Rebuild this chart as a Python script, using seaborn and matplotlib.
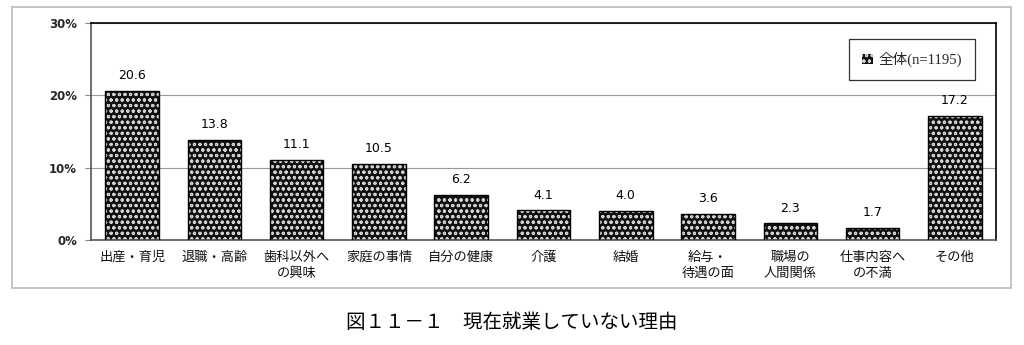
import matplotlib
matplotlib.use("Agg")
import matplotlib.pyplot as plt
import matplotlib.patches as mpatches
import seaborn as sns
import pandas as pd

categories = ["出産・育児", "退職・高齢", "歯科以外へ\nの興味", "家庭の事情", "自分の健康",
              "介護", "結婚", "給与・\n待遇の面", "職場の\n人間関係", "仕事内容へ\nの不満", "その他"]
values = [20.6, 13.8, 11.1, 10.5, 6.2, 4.1, 4.0, 3.6, 2.3, 1.7, 17.2]
yticks = [0, 10, 20, 30]
ytick_labels = ["0%", "10%", "20%", "30%"]
legend_label = "全体(n=1195)"
title = "図１１－１　現在就業していない理由"

sns.set_theme(style="white")
plt.rcParams['font.family'] = ['Noto Sans CJK JP', 'DejaVu Sans']
plt.rcParams['hatch.linewidth'] = 0.8

df = pd.DataFrame({"cat": categories, "val": values})

fig = plt.figure(figsize=(10.24, 3.45), dpi=100)
ax = fig.add_axes([91/1024, 1 - 240/345, (996-91)/1024, (240-23)/345])

sns.barplot(data=df, x="cat", y="val", ax=ax, color="#111111", width=0.65,
            saturation=1)
for p in ax.patches:
    p.set_hatch("ooo")
    p.set_edgecolor("#d0d0d0")
    p.set_linewidth(0)
    p.set_zorder(2)
    r = mpatches.Rectangle(p.get_xy(), p.get_width(), p.get_height(),
                           fill=False, edgecolor="black", linewidth=1.0, zorder=3)
    ax.add_patch(r)

for i, v in enumerate(values):
    ax.text(i, v + 1.2, f"{v:.1f}", ha="center", va="bottom", fontsize=9,
            family="DejaVu Sans", color="black")

ax.set_ylim(0, 30)
ax.set_xlim(-0.5, len(categories) - 0.5)
ax.set_yticks(yticks)
ax.set_yticklabels(ytick_labels, fontsize=8.5, fontweight="bold", family="DejaVu Sans")
ax.set_xticks(range(len(categories)))
ax.set_xticklabels(categories, fontsize=9.5, linespacing=1.3, color="#111111")
ax.set_xlabel("")
ax.set_ylabel("")
ax.yaxis.grid(True, color="#999999", linewidth=0.8)
ax.set_axisbelow(True)
ax.tick_params(axis="y", length=4, width=0.8, color="#888888", pad=6, left=True)
ax.tick_params(axis="x", length=0, pad=8)
for s in ax.spines.values():
    s.set_color("black")
    s.set_linewidth(1.2)
ax.spines["left"].set_color("#555555")
ax.spines["bottom"].set_color("#555555")

handle = mpatches.Patch(facecolor="#111111", edgecolor="#d0d0d0", hatch="ooo", linewidth=0)
leg = ax.legend([handle], [legend_label], loc="upper right", bbox_to_anchor=(0.985, 0.96),
                frameon=True, fancybox=False, edgecolor="black", handlelength=0.7,
                handleheight=0.7, handletextpad=0.4, borderpad=0.9,
                prop={"family": ["Liberation Serif", "Noto Sans CJK JP"], "size": 10.5})
leg.get_frame().set_linewidth(0.9)

border = mpatches.Rectangle((12/1024, 1 - 288/345), (1011-12)/1024, (288-7)/345,
                            transform=fig.transFigure, fill=False,
                            edgecolor="#bbbbbb", linewidth=1.2)
fig.patches.append(border)

fig.text(0.5, 1 - 322/345, title, ha="center", va="center", fontsize=14, color="black")

fig.savefig("out.png", dpi=100)
